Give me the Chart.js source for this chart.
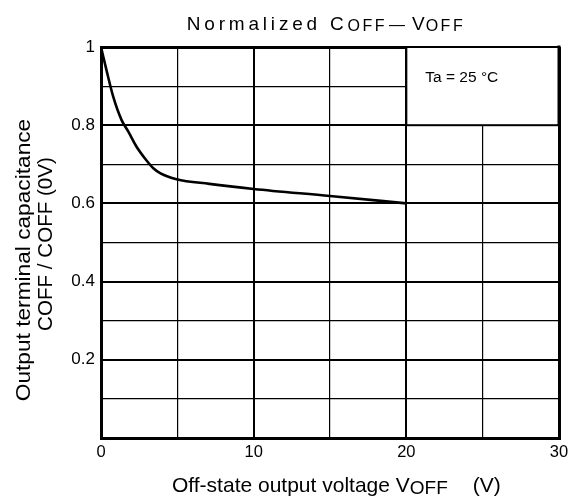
<!DOCTYPE html>
<html>
<head>
<meta charset="utf-8">
<script src="https://cdn.jsdelivr.net/npm/chart.js@4"></script>
<style>
  html, body { margin: 0; padding: 0; background: #fff; }
  canvas { display: block; }
</style>
</head>
<body>
<canvas id="c" width="577" height="504"></canvas>
<script>
// ---- data ----
const voltage = [0, 0.37, 0.8, 1.35, 1.8, 2.33, 2.88, 3.43, 3.9, 4.95, 7.1, 10, 15, 20];
const normCoff = [1.0, 0.939, 0.873, 0.813, 0.783, 0.745, 0.715, 0.69, 0.677, 0.662, 0.65, 0.637, 0.619, 0.60];
const xTickLabels = [0, 10, 20, 30];
const yTickLabels = [0.2, 0.4, 0.6, 0.8, 1];
const annotationText = 'Ta = 25 °C';
const annotationBox = { x0: 20, x1: 30, y0: 0.8, y1: 1 };

const FONT = '"Liberation Sans", Arial, sans-serif';

function drawRuns(ctx, runs, x, y) {
  let cx = x;
  for (const r of runs) {
    ctx.font = r.size + 'px ' + FONT;
    ctx.letterSpacing = (r.ls || 0) + 'px';
    if (r.gap) cx += r.gap;
    ctx.fillText(r.text, cx, y + (r.dy || 0));
    cx += ctx.measureText(r.text).width;
  }
  ctx.letterSpacing = '0px';
  return cx;
}
function runsWidth(ctx, runs) {
  let w = 0;
  for (const r of runs) {
    ctx.font = r.size + 'px ' + FONT;
    ctx.letterSpacing = (r.ls || 0) + 'px';
    w += (r.gap || 0) + ctx.measureText(r.text).width;
  }
  ctx.letterSpacing = '0px';
  return w;
}

const textPlugin = {
  id: 'texts',
  beforeDatasetsDraw(chart) {
    const { ctx, scales: { x, y } } = chart;
    const bx0 = x.getPixelForValue(annotationBox.x0);
    const bx1 = x.getPixelForValue(annotationBox.x1);
    const by0 = y.getPixelForValue(annotationBox.y1);
    const by1 = y.getPixelForValue(annotationBox.y0);
    ctx.save();
    ctx.fillStyle = '#fff';
    ctx.fillRect(bx0, by0, bx1 - bx0, by1 - by0);
    ctx.strokeStyle = '#000';
    ctx.lineWidth = 2;
    ctx.strokeRect(bx0, by0, bx1 - bx0, by1 - by0);
    ctx.lineWidth = 3;
    ctx.beginPath(); ctx.moveTo(bx1, by0 - 1.5); ctx.lineTo(bx1, by1); ctx.stroke();
    ctx.fillStyle = '#000';
    ctx.font = '15.5px ' + FONT;
    ctx.textBaseline = 'middle';
    ctx.textAlign = 'left';
    ctx.fillText(annotationText, bx0 + 19, by0 + 31);
    ctx.restore();
  },
  afterDraw(chart) {
    const { ctx } = chart;
    ctx.save();
    ctx.fillStyle = '#000';
    ctx.textBaseline = 'alphabetic';
    ctx.textAlign = 'left';
    // title
    const titleRuns = [
      { text: 'Normalized C', size: 19, ls: 3.8 },
      { text: 'OFF', size: 16, ls: 2.5, dy: 1 },
      { text: '—', size: 16, ls: 0, gap: 2 },
      { text: 'V', size: 19, ls: 1, gap: 7 },
      { text: 'OFF', size: 16, ls: 2.5, dy: 1 }
    ];
    const tw = runsWidth(ctx, titleRuns);
    drawRuns(ctx, titleRuns, 326 - tw / 2, 30);
    // x axis title
    drawRuns(ctx, [
      { text: 'Off-state output voltage V', size: 21 },
      { text: 'OFF', size: 19, dy: 2 },
      { text: '(V)', size: 21, gap: 25 }
    ], 172, 492);
    ctx.restore();

    // y axis title (two lines, rotated)
    ctx.save();
    ctx.fillStyle = '#000';
    ctx.font = '21px ' + FONT;
    ctx.textAlign = 'center';
    ctx.textBaseline = 'alphabetic';
    ctx.save();
    ctx.translate(30, 260);
    ctx.rotate(-Math.PI / 2);
    ctx.scale(1.08, 1);
    ctx.fillText('Output terminal capacitance', 0, 0);
    ctx.restore();
    ctx.save();
    ctx.translate(52, 244);
    ctx.rotate(-Math.PI / 2);
    ctx.scale(0.98, 1);
    ctx.fillText('COFF / COFF (0V)', 0, 0);
    ctx.restore();
    ctx.restore();
  }
};

new Chart(document.getElementById('c'), {
  type: 'scatter',
  data: {
    datasets: [{
      data: voltage.map((v, i) => ({ x: v, y: normCoff[i] })),
      showLine: true,
      borderColor: '#000',
      borderWidth: 2.6,
      pointRadius: 0,
      fill: false,
      cubicInterpolationMode: 'monotone'
    }]
  },
  options: {
    responsive: false,
    animation: false,
    devicePixelRatio: 1,
    layout: { padding: { top: 47, right: 18, left: 0, bottom: 0 } },
    plugins: { legend: { display: false }, title: { display: false }, tooltip: { enabled: false } },
    scales: {
      x: {
        type: 'linear', min: 0, max: 30,
        afterFit(s) { s.height = 66; },
        ticks: {
          stepSize: 5, padding: 5, color: '#000', autoSkip: false, maxRotation: 0,
          font: { size: 16.5, family: FONT },
          callback: v => xTickLabels.includes(Math.round(v)) && Math.abs(v - Math.round(v)) < 1e-6 ? String(Math.round(v)) : ''
        },
        grid: {
          color: '#000', drawTicks: false,
          lineWidth: c => { const v = Math.round(c.tick.value); return (v === 0 || v === 30) ? 3 : (v % 10 === 0 ? 2 : 1.2); }
        },
        border: { display: true, color: '#000', width: 3 }
      },
      y: {
        type: 'linear', min: 0, max: 1,
        afterFit(s) { s.width = 101; },
        ticks: {
          stepSize: 0.1, padding: 6, color: '#000', autoSkip: false,
          font: { size: 17, family: FONT },
          callback: v => { const r = Math.round(v * 10) / 10; return yTickLabels.includes(r) ? String(r) : ''; }
        },
        grid: {
          color: '#000', drawTicks: false,
          lineWidth: c => { const k = Math.round(c.tick.value * 10); return (k === 0 || k === 10) ? 3 : (k % 2 === 0 ? 2 : 1.2); }
        },
        border: { display: true, color: '#000', width: 3 }
      }
    }
  },
  plugins: [textPlugin]
});
</script>
</body>
</html>
